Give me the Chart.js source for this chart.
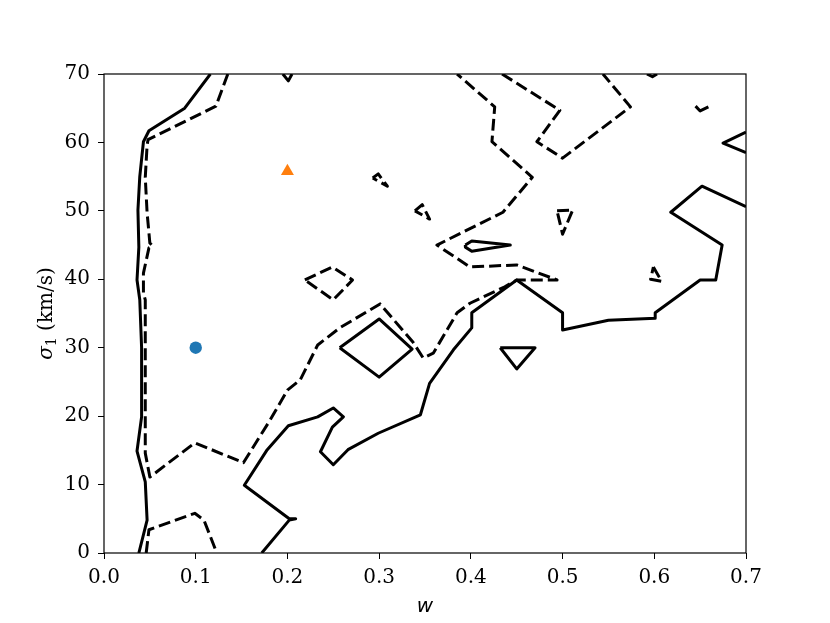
<!DOCTYPE html>
<html>
<head>
<meta charset="utf-8">
<script src="https://cdn.jsdelivr.net/npm/chart.js@4.4.1/dist/chart.umd.min.js"></script>
<style>
  html, body { margin: 0; padding: 0; background: #fff; }
  canvas { display: block; }
</style>
</head>
<body>
<canvas id="contour" width="830" height="623"></canvas>
<script>
// axis ticks
const xTicks = [0.0, 0.1, 0.2, 0.3, 0.4, 0.5, 0.6, 0.7];
const yTicks = [0, 10, 20, 30, 40, 50, 60, 70];

// solid contour level, [w, sigma1]
const solidLeft = [[0.116,70],[0.088,65.0],[0.049,61.7],[0.043,60.1],[0.039,55.0],[0.037,50.1],
  [0.038,44.7],[0.036,39.9],[0.039,37.0],[0.041,30.0],[0.041,19.9],[0.036,14.9],[0.045,10.4],
  [0.047,4.8],[0.038,0]];
const solidLower = [[0.7,50.6],[0.652,53.6],[0.618,49.8],[0.674,45.0],[0.667,39.9],[0.650,39.9],
  [0.601,35.1],[0.601,34.3],[0.550,34.0],[0.500,32.6],[0.500,35.1],[0.450,39.9],[0.401,35.1],
  [0.401,32.9],[0.381,29.7],[0.355,24.8],[0.345,20.2],[0.299,17.5],[0.266,15.1],[0.250,12.9],
  [0.236,14.8],[0.249,18.4],[0.261,19.9],[0.250,21.2],[0.233,19.9],[0.201,18.6],[0.178,15.1],
  [0.153,9.9],[0.202,5.0],[0.209,5.0],[0.202,4.8],[0.172,0]];
const solidEdge = [[0.7,61.5],[0.675,59.9],[0.7,58.5]];
const solidDiamond = [[0.257,30.0],[0.300,34.2],[0.336,29.8],[0.300,25.7],[0.257,30.0]];
const solidTriangle = [[0.432,30.0],[0.470,30.0],[0.450,26.9],[0.432,30.0]];
const solidSpike = [[0.394,45.0],[0.401,45.6],[0.443,45.0],[0.401,44.1],[0.394,44.7],[0.394,45.0]];
const solidTopA = [[0.195,70],[0.201,69.0],[0.205,70]];
const solidTopB = [[0.645,65.3],[0.650,64.6],[0.659,65.2]];

// dashed contour level
const dashedMain = [[0.135,70],[0.122,65.3],[0.048,60.4],[0.047,59.6],[0.045,54.9],[0.047,49.7],
  [0.050,45.3],[0.053,44.9],[0.049,44.6],[0.043,40.9],[0.043,38.0],[0.045,37.0],[0.045,19.9],
  [0.045,14.6],[0.050,11.1],[0.099,16.1],[0.152,13.2],[0.181,19.4],[0.200,23.8],[0.214,25.3],
  [0.233,30.4],[0.257,32.9],[0.301,36.4],[0.337,30.8],[0.348,28.5],[0.359,29.2],[0.385,35.1],
  [0.399,36.5],[0.437,38.9],[0.450,39.9],[0.494,39.9],[0.450,42.1],[0.399,41.8],[0.363,45.0],
  [0.435,49.8],[0.467,54.9],[0.423,60.1],[0.426,65.2],[0.385,70]];
const dashedTop = [[0.434,70],[0.497,64.7],[0.472,60.1],[0.500,57.7],[0.574,65.2],[0.544,70]];
const dashedDiamond = [[0.219,39.9],[0.249,41.8],[0.271,39.9],[0.250,37.0],[0.219,39.9]];
const dashedBottom = [[0.046,0],[0.049,3.4],[0.099,5.8],[0.109,4.8],[0.123,0]];
const dashedBlobA = [[0.293,54.8],[0.299,55.4],[0.309,53.6],[0.293,54.8]];
const dashedBlobB = [[0.339,50.0],[0.347,50.9],[0.355,48.8],[0.339,50.0]];
const dashedBlobC = [[0.494,50.0],[0.511,50.1],[0.500,46.6],[0.494,50.0]];
const dashedBlobD = [[0.599,41.8],[0.608,39.7],[0.596,40.0],[0.599,41.8]];
const dashedTopC = [[0.592,70],[0.598,69.6],[0.603,70]];

// markers
const circlePoint = [[0.1, 30]];
const trianglePoint = [[0.2, 55.8]];

const solidSet = [solidLeft, solidLower, solidEdge, solidDiamond, solidTriangle, solidSpike, solidTopA, solidTopB];
const dashedSet = [dashedMain, dashedTop, dashedDiamond, dashedBottom, dashedBlobA, dashedBlobB, dashedBlobC, dashedBlobD, dashedTopC];

const toXY = arr => arr.map(p => ({ x: p[0], y: p[1] }));

function contourLine(arr, dashed) {
  return {
    data: toXY(arr),
    showLine: true,
    borderColor: '#000',
    borderWidth: 3,
    borderDash: dashed ? [12, 5] : [],
    borderJoinStyle: 'round',
    borderCapStyle: 'butt',
    tension: 0,
    pointRadius: 0,
    pointHoverRadius: 0,
    clip: 0
  };
}

const datasets = [];
solidSet.forEach(a => datasets.push(contourLine(a, false)));
dashedSet.forEach(a => datasets.push(contourLine(a, true)));
datasets.push({
  data: toXY(circlePoint),
  pointStyle: 'circle',
  pointRadius: 6.2,
  backgroundColor: '#1f77b4',
  borderWidth: 0
});
datasets.push({
  data: toXY(trianglePoint),
  pointStyle: 'triangle',
  pointRadius: 7.5,
  backgroundColor: '#ff7f0e',
  borderWidth: 0
});

const tickFont = { family: 'DejaVu Serif', size: 20 };

// spines and axis labels
const frameAndLabels = {
  id: 'frameAndLabels',
  afterDraw(chart) {
    const { ctx, chartArea: a } = chart;
    ctx.save();
    ctx.strokeStyle = '#000';
    ctx.lineWidth = 1.2;
    ctx.strokeRect(a.left, a.top, a.right - a.left, a.bottom - a.top);

    ctx.fillStyle = '#000';
    ctx.textBaseline = 'alphabetic';
    ctx.font = 'oblique 20px "DejaVu Sans"';
    ctx.textAlign = 'center';
    ctx.fillText('w', (a.left + a.right) / 2, 612);

    // sigma_1 (km/s)
    ctx.translate(52, (a.top + a.bottom) / 2);
    ctx.rotate(-Math.PI / 2);
    ctx.textAlign = 'left';
    const parts = [
      { t: 'σ', f: 'italic 20px "DejaVu Serif"', dy: 0 },
      { t: '1', f: '14px "DejaVu Serif"', dy: 4 },
      { t: ' (km/s)', f: '20px "DejaVu Serif"', dy: 0 }
    ];
    let total = 0;
    parts.forEach(p => { ctx.font = p.f; p.w = ctx.measureText(p.t).width; total += p.w; });
    let x = -total / 2;
    parts.forEach(p => { ctx.font = p.f; ctx.fillText(p.t, x, p.dy); x += p.w; });
    ctx.restore();
  }
};

new Chart(document.getElementById('contour'), {
  type: 'scatter',
  data: { datasets: datasets },
  options: {
    responsive: false,
    animation: false,
    devicePixelRatio: 1,
    layout: { padding: { left: 0, top: 74, right: 84, bottom: 0 } },
    plugins: { legend: { display: false }, tooltip: { enabled: false } },
    scales: {
      x: {
        type: 'linear',
        min: 0,
        max: 0.7,
        afterBuildTicks: s => { s.ticks = xTicks.map(v => ({ value: v })); },
        afterFit: s => { s.height = 70; },
        ticks: { font: tickFont, color: '#000', padding: 7, maxRotation: 0,
                 callback: v => v.toFixed(1) },
        grid: { drawOnChartArea: false, drawTicks: true, tickLength: 6, color: '#000', lineWidth: 1 },
        border: { display: false }
      },
      y: {
        type: 'linear',
        min: 0,
        max: 70,
        afterBuildTicks: s => { s.ticks = yTicks.map(v => ({ value: v })); },
        afterFit: s => { s.width = 104; },
        ticks: { font: tickFont, color: '#000', padding: 8,
                 callback: v => String(v) },
        grid: { drawOnChartArea: false, drawTicks: true, tickLength: 6, color: '#000', lineWidth: 1 },
        border: { display: false }
      }
    }
  },
  plugins: [frameAndLabels]
});
</script>
</body>
</html>
